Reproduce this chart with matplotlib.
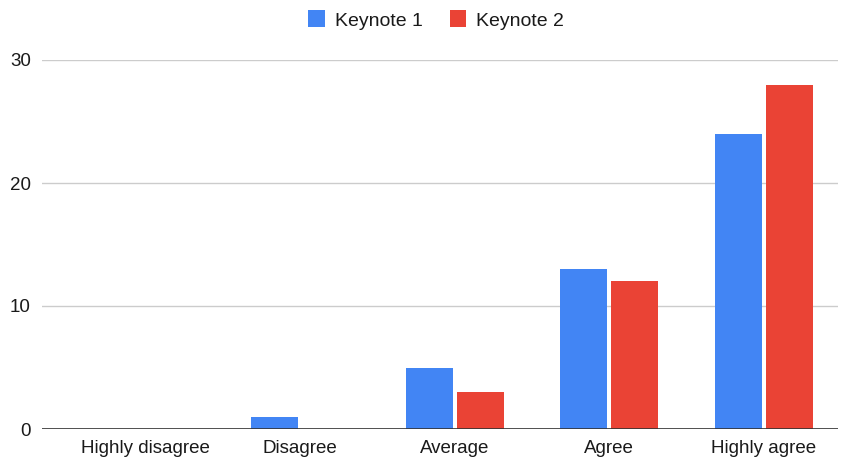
import matplotlib
matplotlib.use("Agg")
import matplotlib.pyplot as plt
import numpy as np
from matplotlib.patches import Patch

categories = ["Highly disagree", "Disagree", "Average", "Agree", "Highly agree"]
keynote1 = [0, 1, 5, 13, 24]
keynote2 = [0, 0, 3, 12, 28]
series_names = ["Keynote 1", "Keynote 2"]
yticks = [0, 10, 20, 30]

BLUE = "#4285F4"
RED = "#EA4335"
TXT = "#1a1a1a"

plt.rcParams['font.family'] = ['Liberation Sans', 'DejaVu Sans']

fig = plt.figure(figsize=(8.55, 4.57), dpi=100)
ax = fig.add_axes([42/855, 1-429/457, (838-42)/855, (429-60)/457])

x = np.arange(len(categories))
w = 0.304
off = 0.165
ax.bar(x - off, keynote1, width=w, color=BLUE, label=series_names[0], zorder=3)
ax.bar(x + off, keynote2, width=w, color=RED, label=series_names[1], zorder=3)

ax.set_xlim(-0.67, 4.48)
ax.set_ylim(0, 30)
ax.set_yticks(yticks)
ax.set_xticks(x)
ax.set_xticklabels(categories)
ax.grid(axis='y', color='#cccccc', linewidth=1, zorder=0)
ax.axhline(0, color='#333333', linewidth=1.2, zorder=4)
for s in ax.spines.values():
    s.set_visible(False)
ax.tick_params(axis='both', length=0, labelsize=13.5, colors=TXT)
ax.tick_params(axis='y', pad=8)
ax.tick_params(axis='x', pad=8)

handles = [Patch(facecolor=BLUE, label=series_names[0]),
           Patch(facecolor=RED, label=series_names[1])]
fig.legend(handles=handles, loc='center', bbox_to_anchor=(436/855, 1-20/457),
           ncol=2, frameon=False, fontsize=14, handlelength=0.85, handleheight=0.95,
           handletextpad=0.5, columnspacing=1.4, labelcolor=TXT)

fig.savefig("out.png", dpi=100)
